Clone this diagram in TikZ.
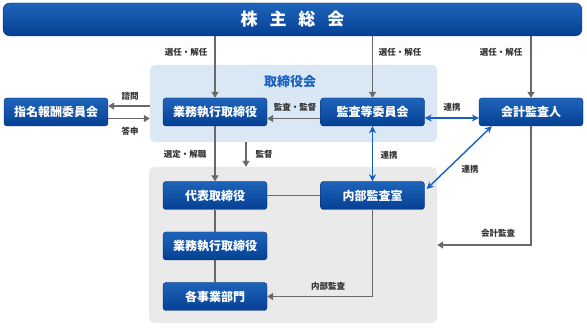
\documentclass[tikz,border=0pt]{standalone}
\usepackage{fontspec}
\setmainfont{Noto Sans CJK JP}
\usepackage{tikz}
\usetikzlibrary{arrows.meta, calc}
\definecolor{boxtop}{RGB}{30,100,186}
\definecolor{boxbot}{RGB}{5,64,148}
\definecolor{boardbg}{RGB}{218,231,245}
\definecolor{execbg}{RGB}{234,234,234}
\definecolor{linkblue}{RGB}{22,96,196}
\definecolor{linegray}{RGB}{105,105,105}

\begin{document}
\begin{tikzpicture}[
    x=1pt, y=-1pt,
    box/.style={rectangle, rounded corners=3pt, draw=boxbot!70!black, line width=0.4pt, top color=boxtop, bottom color=boxbot, minimum width=104pt, minimum height=28pt, inner sep=0pt, text=white, font=\fontsize{12}{14}\selectfont\bfseries},
    region/.style={rectangle, rounded corners=5pt, inner sep=0pt},
    lbl/.style={inner sep=0pt, text=black!80, font=\fontsize{8.5}{10}\selectfont\bfseries},
    garrow/.style={-{Triangle[length=6pt,width=7pt]}, line width=1.4pt, linegray},
    gline/.style={line width=1.4pt, linegray},
    barrow/.style={{Stealth[length=7pt,width=7pt]}-{Stealth[length=7pt,width=7pt]}, line width=1.4pt, linkblue}
]
\useasboundingbox (0,0) rectangle (587,328);

% Background areas
\node[region, fill=boardbg, minimum width=287pt, minimum height=77pt] (board) at (293.5,103.5) {};
\node[region, fill=execbg, minimum width=288pt, minimum height=156pt] (exec) at (293,245) {};
\node[inner sep=0pt, text=linkblue, font=\fontsize{13}{15}\selectfont\bfseries] (boardtitle) at (290,82) {取締役会};

% Shareholders meeting
\node[box, rounded corners=7pt, minimum width=579pt, minimum height=33pt, font=\fontsize{17}{20}\selectfont\bfseries] (soukai) at (292.5,19.5) {株\hspace{0.7em}主\hspace{0.7em}総\hspace{0.7em}会};

% Organs
\node[box] (shimei) at (56,112) {指名報酬委員会};
\node[box] (gyomu) at (215,112) {業務執行取締役};
\node[box] (kansa) at (372.5,112) {監査等委員会};
\node[box] (kaikei) at (531,112) {会計監査人};
\node[box] (daihyo) at (215,195.5) {代表取締役};
\node[box] (naibu) at (372.5,195.5) {内部監査室};
\node[box] (gyomub) at (215,246) {業務執行取締役};
\node[box] (jigyo) at (215,296.5) {各事業部門};

% Appointment
\draw[garrow] (soukai.south -| gyomu.north) -- (gyomu.north);
\draw[garrow] (soukai.south -| kansa.north) -- (kansa.north);
\draw[garrow] (soukai.south -| kaikei.north) -- (kaikei.north);
\node[lbl] (sen1) at (186,52) {選任・解任};
\node[lbl] (sen2) at (400,52) {選任・解任};
\node[lbl] (sen3) at (501,52) {選任・解任};

% Nomination committee
\draw[garrow] ($(board.west |- shimei.east)+(0,-6)$) -- ($(shimei.east)+(0,-6)$);
\draw[garrow] ($(shimei.east)+(0,6.5)$) -- ($(board.west |- shimei.east)+(0,6.5)$);
\node[lbl] (shimon) at (130,96) {諮問};
\node[lbl] (toshin) at (130,131) {答申};

% Audit and supervision
\draw[garrow] ($(kansa.west)+(0,6.5)$) -- ($(gyomu.east)+(0,6.5)$);
\node[lbl] (kantoku1) at (295,107) {監査・監督};
\draw[garrow] (gyomu.south) -- (daihyo.north);
\node[lbl] (sentei) at (185,154) {選定・解職};
\draw[garrow] (board.south -| 246,0) -- (exec.north -| 246,0);
\node[lbl] (kantoku2) at (264,154) {監督};

% Cooperation
\draw[barrow] ($(kansa.east)+(0,6)$) -- ($(kaikei.west)+(0,6)$);
\draw[barrow] (kansa.south) -- (naibu.north);
\draw[barrow] ($(kaikei.south west)+(13,0)$) -- ($(naibu.east)+(2,-6.5)$);
\node[lbl] (renkei1) at (452,107) {連携};
\node[lbl] (renkei2) at (389,155) {連携};
\node[lbl] (renkei3) at (470,169) {連携};

% Execution side
\draw[gline] (daihyo.east) -- (naibu.west);
\draw[gline] (daihyo.south) -- (gyomub.north);
\draw[gline] (gyomub.south) -- (jigyo.north);
\draw[garrow] (naibu.south) |- (jigyo.east);
\node[lbl] (naibukansa) at (328,286) {内部監査};
\draw[garrow] (kaikei.south) |- (exec.east);
\node[lbl] (kaikeikansa) at (498,233) {会計監査};
\end{tikzpicture}
\end{document}
